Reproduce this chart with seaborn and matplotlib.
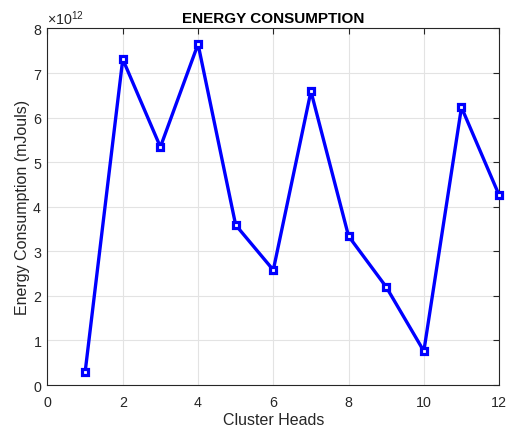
import matplotlib
matplotlib.use("Agg")
import matplotlib.pyplot as plt
import matplotlib.ticker as mticker
import seaborn as sns
import pandas as pd

cluster_heads = [1, 2, 3, 4, 5, 6, 7, 8, 9, 10, 11, 12]
energy = [0.29e12, 7.31e12, 5.34e12, 7.65e12, 3.59e12, 2.58e12,
          6.59e12, 3.34e12, 2.20e12, 0.76e12, 6.23e12, 4.26e12]

df = pd.DataFrame({"Cluster Heads": cluster_heads, "Energy": energy})

sns.set_style("white")
plt.rcParams['font.family'] = ['Liberation Sans', 'DejaVu Sans']
plt.rcParams['mathtext.fontset'] = 'custom'
plt.rcParams['mathtext.rm'] = 'Liberation Sans'

fig = plt.figure(figsize=(5.08, 4.27), dpi=100)
ax = fig.add_axes([0.0935, 0.096, 0.889, 0.835])

sns.lineplot(data=df, x="Cluster Heads", y="Energy", ax=ax, color="#0000ff",
             linewidth=2.4, marker="s", markersize=4.9, markeredgewidth=2.3,
             markerfacecolor="white", markeredgecolor="#0000ff", clip_on=False,
             zorder=5)

ax.set_xlim(0, 12)
ax.set_ylim(0, 8e12)
ax.set_xticks(range(0, 13, 2))
ax.set_yticks([i * 1e12 for i in range(9)])
fmt = mticker.ScalarFormatter(useMathText=True)
ax.yaxis.set_major_formatter(fmt)
ax.grid(True, color="#e3e3e3", linewidth=0.8)
ax.tick_params(direction="in", top=True, right=True, length=4, width=0.8,
               labelsize=10.3, colors="#262626", labelcolor="#262626")
ax.tick_params(axis="x", pad=7.5)
ax.tick_params(axis="y", pad=4)
for s in ax.spines.values():
    s.set_color("#262626")
    s.set_linewidth(0.8)
ax.yaxis.get_offset_text().set_fontsize(10.3)
ax.yaxis.get_offset_text().set_color("#262626")
ax.set_xlabel("Cluster Heads", fontsize=11.5, color="#262626", labelpad=2)
ax.set_ylabel("Energy Consumption (mJouls)", fontsize=11.5, color="#262626", labelpad=2)
ax.set_title("ENERGY CONSUMPTION", fontsize=11, fontweight="bold", color="black", pad=5)

fig.savefig("out.png", dpi=100)
